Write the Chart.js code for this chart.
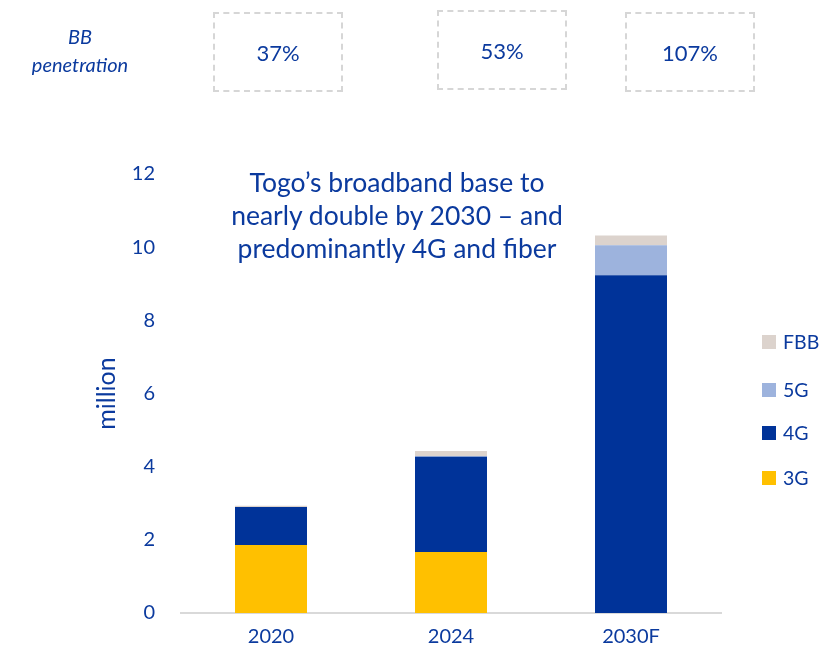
<!DOCTYPE html>
<html><head><meta charset="utf-8">
<script src="https://cdn.jsdelivr.net/npm/chart.js@4/dist/chart.umd.min.js"></script>
<style>
html,body{margin:0;padding:0;background:#fff;}
#wrap{position:relative;width:821px;height:656px;font-family:Lato,"Noto Sans",sans-serif;color:#0B3A9E;}
#c{position:absolute;left:0;top:0;}
.box{position:absolute;border:2px dashed #d6d6d6;box-sizing:border-box;width:130px;height:80px;display:flex;align-items:center;justify-content:center;font-size:22px;}
#bbl{position:absolute;left:30px;top:22px;width:100px;text-align:center;font-style:italic;font-size:20px;line-height:28px;}
#title{position:absolute;left:147px;top:166px;width:500px;text-align:center;font-size:26.5px;line-height:33px;}
.leg{position:absolute;left:762px;font-size:19.5px;display:flex;align-items:center;}
.leg span.sw{display:inline-block;width:14px;height:14px;margin-right:7px;}
</style></head>
<body>
<div id="wrap">
<canvas id="c" width="821" height="656"></canvas>
<div id="bbl">BB<br>penetration</div>
<div id="title">Togo’s broadband base to<br>nearly double by 2030 – and<br>predominantly 4G and fiber</div>
</div>
<script>
const categories = ["2020", "2024", "2030F"];
const penetration = ["37%", "53%", "107%"];
const seriesNames = ["3G", "4G", "5G", "FBB"];
const series3G = [1.86, 1.67, 0];
const series4G = [1.04, 2.60, 9.23];
const series5G = [0, 0.02, 0.82];
const seriesFBB = [0.03, 0.14, 0.27];
const colors = ["#FFC000", "#003399", "#9DB3DD", "#DCD3CD"];
const yTicks = [0, 2, 4, 6, 8, 10, 12];

const TXT = "#0B3A9E";
const FONT = 'Lato, "Noto Sans", sans-serif';

// penetration boxes
const boxPos = [[213,12],[437,10],[625,12]];
const wrap = document.getElementById('wrap');
penetration.forEach((p,i)=>{
  const d = document.createElement('div');
  d.className='box'; d.textContent=p;
  d.style.left=boxPos[i][0]+'px'; d.style.top=boxPos[i][1]+'px';
  wrap.appendChild(d);
});
// legend (top to bottom: FBB, 5G, 4G, 3G)
const legTops = [466, 421, 378, 330];
seriesNames.forEach((n,i)=>{
  const d = document.createElement('div');
  d.className='leg';
  d.style.top = legTops[i]+'px';
  d.innerHTML = '<span class="sw" style="background:'+colors[i]+'"></span>'+n;
  wrap.appendChild(d);
});

const allData = [series3G, series4G, series5G, seriesFBB];
new Chart(document.getElementById('c'), {
  type: 'bar',
  data: {
    labels: categories,
    datasets: seriesNames.map((n,i)=>({
      label: n, data: allData[i], backgroundColor: colors[i],
      barPercentage: 0.4, categoryPercentage: 1.0, borderWidth: 0
    }))
  },
  options: {
    responsive: false, animation: false,
    layout: { padding: { top: 174, right: 100, left: 0, bottom: 0 } },
    plugins: { legend: { display: false }, tooltip: { enabled: false } },
    scales: {
      x: {
        stacked: true,
        grid: { display: false, drawTicks: false },
        border: { display: true, color: '#d9d9d9', width: 2 },
        ticks: { color: TXT, font: { family: FONT, size: 20 }, padding: 12 },
        afterFit: s => { s.height = 43; }
      },
      y: {
        stacked: true, min: 0, max: 12,
        afterBuildTicks: s => { s.ticks = yTicks.map(v=>({value:v})); },
        grid: { display: false, drawTicks: false },
        border: { display: false },
        ticks: { color: TXT, font: { family: FONT, size: 20 }, padding: 26 },
        title: { display: true, text: 'million', color: TXT, font: { family: FONT, size: 25 }, padding: { top: 92, bottom: 0 } },
        afterFit: s => { s.width = 181; }
      }
    }
  }
});
</script>
</body></html>
